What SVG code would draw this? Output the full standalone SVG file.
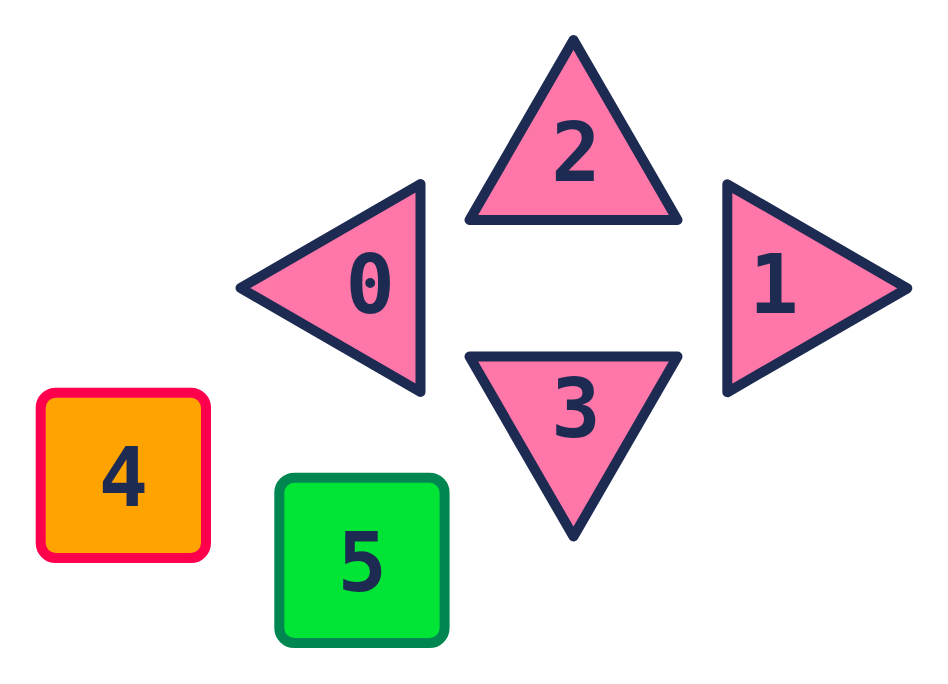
<svg xmlns="http://www.w3.org/2000/svg" width="948" height="684" viewBox="0 0 948 684">
<style>
.tri{fill:#FF77A8;stroke:#1D2B53;stroke-width:10;stroke-linejoin:round}
.lbl{font-family:"DejaVu Sans Mono","Liberation Mono",monospace;font-weight:bold;font-size:82px;fill:#1D2B53;text-anchor:middle}
</style>
<rect width="948" height="684" fill="#FFFFFF"/>
<g id="connectors"></g>
<g id="node0">
<polygon class="tri" points="240.5,288 420.5,184 420.5,392"/>
<text class="lbl" x="370.3" y="312.7">0</text>
</g>
<g id="node1">
<polygon class="tri" points="727.3,184.3 727.3,392.3 907.3,288.3"/>
<text class="lbl" x="774" y="312.7">1</text>
</g>
<g id="node2">
<polygon class="tri" points="573.5,40 469.5,220 677.5,220"/>
<text class="lbl" x="576" y="180.7">2</text>
</g>
<g id="node3">
<polygon class="tri" points="469.5,356.5 677.5,356.5 573.5,536.5"/>
<text class="lbl" x="576" y="436.7">3</text>
</g>
<g id="node4">
<rect x="40.7" y="392.7" width="165.3" height="165.3" rx="15" fill="#FFA300" stroke="#FF004D" stroke-width="10"/>
<text class="lbl" x="123.4" y="506">4</text>
</g>
<g id="node5">
<rect x="279.3" y="477.7" width="165.3" height="165.3" rx="15" fill="#00E436" stroke="#008751" stroke-width="10"/>
<text class="lbl" x="362.3" y="590.7">5</text>
</g>
</svg>
